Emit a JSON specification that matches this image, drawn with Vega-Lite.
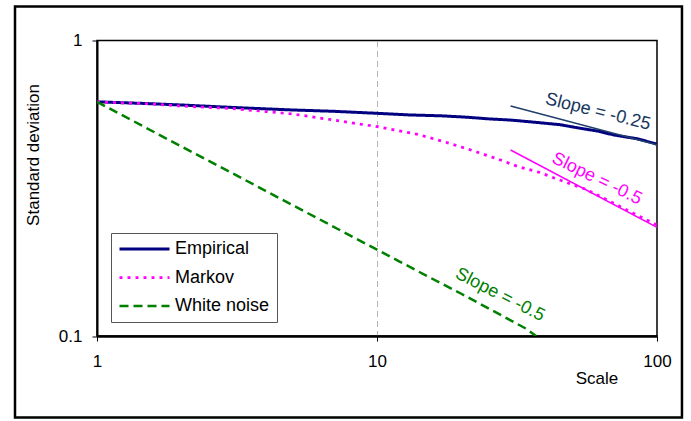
{
  "$schema": "https://vega.github.io/schema/vega-lite/v6.json",
  "width": 560,
  "height": 295.5,
  "autosize": {"type": "none"},
  "padding": {"left": 97, "top": 40.5, "right": 34, "bottom": 85},
  "background": "white",
  "config": {
    "font": "Liberation Sans",
    "view": {"stroke": "black", "strokeWidth": 1.5},
    "axis": {
      "labelFont": "Liberation Sans",
      "titleFont": "Liberation Sans",
      "labelFontSize": 17,
      "titleFontSize": 17,
      "titleFontWeight": "normal",
      "labelColor": "black",
      "titleColor": "black",
      "tickColor": "black",
      "domainColor": "black",
      "grid": false
    },
    "legend": {
      "orient": "none",
      "legendX": 14,
      "legendY": 192.5,
      "strokeColor": "#555555",
      "fillColor": "white",
      "padding": 7,
      "labelFont": "Liberation Sans",
      "labelFontSize": 18,
      "labelColor": "black",
      "symbolType": "stroke",
      "symbolSize": 2500,
      "clipHeight": 18,
      "rowPadding": 10.5,
      "labelOffset": 4,
      "title": null
    }
  },
  "datasets": {
    "series": [
      {"series": "Empirical", "scale": 1, "sd": 0.62},
      {"series": "Empirical", "scale": 1.5, "sd": 0.612},
      {"series": "Empirical", "scale": 2, "sd": 0.605},
      {"series": "Empirical", "scale": 3, "sd": 0.594},
      {"series": "Empirical", "scale": 4, "sd": 0.587},
      {"series": "Empirical", "scale": 5, "sd": 0.582},
      {"series": "Empirical", "scale": 7, "sd": 0.576},
      {"series": "Empirical", "scale": 10, "sd": 0.567},
      {"series": "Empirical", "scale": 13, "sd": 0.56},
      {"series": "Empirical", "scale": 17, "sd": 0.556},
      {"series": "Empirical", "scale": 21, "sd": 0.55},
      {"series": "Empirical", "scale": 25, "sd": 0.543},
      {"series": "Empirical", "scale": 30, "sd": 0.538},
      {"series": "Empirical", "scale": 35, "sd": 0.531},
      {"series": "Empirical", "scale": 45, "sd": 0.519},
      {"series": "Empirical", "scale": 53, "sd": 0.505},
      {"series": "Empirical", "scale": 62, "sd": 0.493},
      {"series": "Empirical", "scale": 70, "sd": 0.479},
      {"series": "Empirical", "scale": 85, "sd": 0.465},
      {"series": "Empirical", "scale": 100, "sd": 0.446},
      {"series": "Markov", "scale": 1, "sd": 0.62},
      {"series": "Markov", "scale": 1.5, "sd": 0.611},
      {"series": "Markov", "scale": 2, "sd": 0.6},
      {"series": "Markov", "scale": 3, "sd": 0.589},
      {"series": "Markov", "scale": 4, "sd": 0.575},
      {"series": "Markov", "scale": 5, "sd": 0.564},
      {"series": "Markov", "scale": 7, "sd": 0.538},
      {"series": "Markov", "scale": 10, "sd": 0.511},
      {"series": "Markov", "scale": 14, "sd": 0.481},
      {"series": "Markov", "scale": 17, "sd": 0.457},
      {"series": "Markov", "scale": 20, "sd": 0.436},
      {"series": "Markov", "scale": 23, "sd": 0.418},
      {"series": "Markov", "scale": 27, "sd": 0.397},
      {"series": "Markov", "scale": 32, "sd": 0.374},
      {"series": "Markov", "scale": 38, "sd": 0.358},
      {"series": "Markov", "scale": 45, "sd": 0.337},
      {"series": "Markov", "scale": 55, "sd": 0.315},
      {"series": "Markov", "scale": 63, "sd": 0.296},
      {"series": "Markov", "scale": 78, "sd": 0.267},
      {"series": "Markov", "scale": 100, "sd": 0.2375},
      {"series": "White noise", "scale": 1, "sd": 0.62},
      {"series": "White noise", "scale": 1.5, "sd": 0.506},
      {"series": "White noise", "scale": 2, "sd": 0.438},
      {"series": "White noise", "scale": 3, "sd": 0.358},
      {"series": "White noise", "scale": 4, "sd": 0.31},
      {"series": "White noise", "scale": 5, "sd": 0.277},
      {"series": "White noise", "scale": 6, "sd": 0.253},
      {"series": "White noise", "scale": 8, "sd": 0.219},
      {"series": "White noise", "scale": 10, "sd": 0.196},
      {"series": "White noise", "scale": 12, "sd": 0.179},
      {"series": "White noise", "scale": 15, "sd": 0.16},
      {"series": "White noise", "scale": 20, "sd": 0.139},
      {"series": "White noise", "scale": 25, "sd": 0.124},
      {"series": "White noise", "scale": 30, "sd": 0.113},
      {"series": "White noise", "scale": 34, "sd": 0.106},
      {"series": "White noise", "scale": 37, "sd": 0.1}
    ],
    "fits": [
      {"fit": "Empirical", "scale": 30, "sd": 0.6},
      {"fit": "Empirical", "scale": 100, "sd": 0.444},
      {"fit": "Markov", "scale": 30, "sd": 0.426},
      {"fit": "Markov", "scale": 100, "sd": 0.233}
    ],
    "labels": [
      {"series": "Empirical", "label": "Slope = -0.25", "scale": 61.5, "sd": 0.573},
      {"series": "Markov", "label": "Slope = -0.5", "scale": 61, "sd": 0.34},
      {"series": "White noise", "label": "Slope = -0.5", "scale": 27.5, "sd": 0.1376}
    ]
  },
  "layer": [
    {
      "data": {"values": [{}]},
      "mark": {"type": "rect", "filled": false, "color": "black", "strokeWidth": 2.5, "clip": false},
      "encoding": {
        "x": {"datum": 0.5095, "type": "quantitative", "title": "Scale"},
        "x2": {"datum": 122.8},
        "y": {"datum": 1.303, "type": "quantitative", "title": "Standard deviation"},
        "y2": {"datum": 0.05298}
      }
    },
    {
      "data": {"name": "series"},
      "mark": {"type": "line", "clip": true},
      "encoding": {
        "x": {
          "field": "scale",
          "type": "quantitative",
          "title": "Scale",
          "scale": {"type": "log", "domain": [1, 100], "nice": false},
          "axis": {
            "values": [1, 10, 100],
            "format": "d",
            "labelFlush": false,
            "labelPadding": 12,
            "tickSize": 5,
            "domainWidth": 2.5,
            "title": "Scale",
            "titleX": 499.5,
            "titleY": 42,
            "titleBaseline": "middle",
            "titleAlign": "center",
            "grid": true,
            "gridDash": [6, 4],
            "gridWidth": 1,
            "gridColor": {"condition": {"test": "datum.value === 10", "value": "#b4b4b4"}, "value": "transparent"}
          }
        },
        "y": {
          "field": "sd",
          "type": "quantitative",
          "title": "Standard deviation",
          "scale": {"type": "log", "domain": [0.1, 1], "nice": false},
          "axis": {
            "values": [0.1, 1],
            "format": "~g",
            "labelPadding": 10,
            "tickSize": 5,
            "domainWidth": 2,
            "labelBaseline": "middle",
            "title": "Standard deviation",
            "titleX": -64,
            "titleY": 114,
            "titleBaseline": "middle",
            "titleAlign": "center",
            "titleAngle": -90
          }
        },
        "color": {
          "field": "series",
          "type": "nominal",
          "scale": {"domain": ["Empirical", "Markov", "White noise"], "range": ["#000080", "#FF00FF", "#008000"]}
        },
        "strokeDash": {
          "field": "series",
          "type": "nominal",
          "scale": {"domain": ["Empirical", "Markov", "White noise"], "range": [[1, 0], [3, 5], [9, 5]]}
        },
        "strokeWidth": {
          "field": "series",
          "type": "nominal",
          "scale": {"domain": ["Empirical", "Markov", "White noise"], "range": [3, 2.5, 1.4]}
        }
      }
    },
    {
      "data": {"name": "fits"},
      "transform": [{"filter": "datum.fit === 'Empirical'"}],
      "mark": {"type": "line", "color": "#1F3F6A", "strokeWidth": 1.5, "clip": true},
      "encoding": {
        "x": {"field": "scale", "type": "quantitative", "title": "Scale"},
        "y": {"field": "sd", "type": "quantitative", "title": "Standard deviation"}
      }
    },
    {
      "data": {"name": "fits"},
      "transform": [{"filter": "datum.fit === 'Markov'"}],
      "mark": {"type": "line", "color": "#FF00FF", "strokeWidth": 1.5, "clip": true},
      "encoding": {
        "x": {"field": "scale", "type": "quantitative", "title": "Scale"},
        "y": {"field": "sd", "type": "quantitative", "title": "Standard deviation"}
      }
    },
    {
      "data": {"name": "labels"},
      "transform": [{"filter": "datum.series === 'Empirical'"}],
      "mark": {"type": "text", "color": "#17375E", "angle": 14, "fontSize": 18, "font": "Liberation Sans", "align": "center", "baseline": "middle"},
      "encoding": {
        "x": {"field": "scale", "type": "quantitative", "title": "Scale"},
        "y": {"field": "sd", "type": "quantitative", "title": "Standard deviation"},
        "text": {"field": "label"}
      }
    },
    {
      "data": {"name": "labels"},
      "transform": [{"filter": "datum.series === 'Markov'"}],
      "mark": {"type": "text", "color": "#FF00FF", "angle": 26, "fontSize": 18, "font": "Liberation Sans", "align": "center", "baseline": "middle"},
      "encoding": {
        "x": {"field": "scale", "type": "quantitative", "title": "Scale"},
        "y": {"field": "sd", "type": "quantitative", "title": "Standard deviation"},
        "text": {"field": "label"}
      }
    },
    {
      "data": {"name": "labels"},
      "transform": [{"filter": "datum.series === 'White noise'"}],
      "mark": {"type": "text", "color": "#008000", "angle": 27, "fontSize": 18, "font": "Liberation Sans", "align": "center", "baseline": "middle"},
      "encoding": {
        "x": {"field": "scale", "type": "quantitative", "title": "Scale"},
        "y": {"field": "sd", "type": "quantitative", "title": "Standard deviation"},
        "text": {"field": "label"}
      }
    }
  ]
}
